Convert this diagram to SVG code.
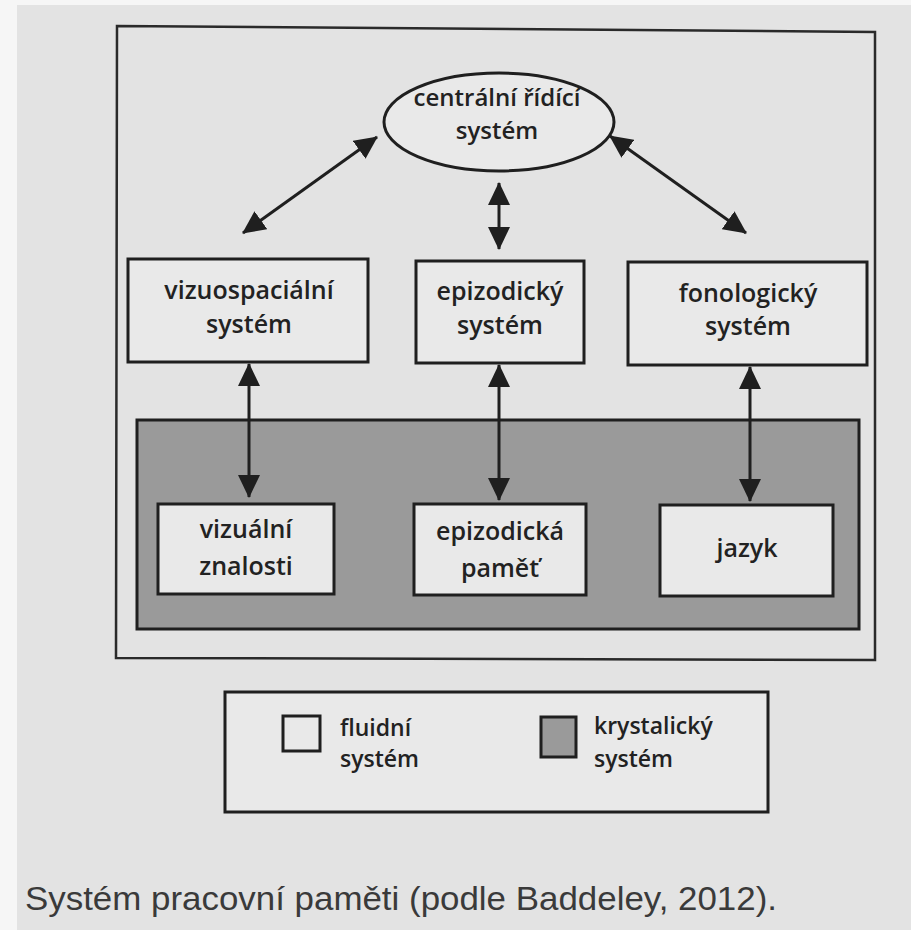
<svg xmlns="http://www.w3.org/2000/svg" width="911" height="930" viewBox="0 0 911 930">
<style>
.bg{fill:#e3e3e3}
.box{fill:#e9e9e9;stroke:#1f1f1f;stroke-width:3}
.frame{fill:none;stroke:#2a2a2a;stroke-width:2.5}
.gray{fill:#9a9a9a;stroke:#1f1f1f;stroke-width:3}
.lbl{font-family:"Open Sans","DejaVu Sans",sans-serif;font-weight:600;font-size:25px;fill:#222;text-anchor:middle}
.lbl-s{font-size:24px}
.leg{font-family:"Open Sans","DejaVu Sans",sans-serif;font-weight:600;font-size:23px;fill:#222}
.cap{font-family:"Liberation Sans",Arial,sans-serif;font-size:33px;fill:#3a3a3a}
.conn{stroke:#1f1f1f;stroke-width:3;fill:none;marker-start:url(#ah);marker-end:url(#ah)}
</style>
<defs>
<marker id="ah" markerUnits="userSpaceOnUse" markerWidth="23" markerHeight="22" refX="22" refY="11" orient="auto-start-reverse">
<path d="M0,0 L23,11 L0,22 z" fill="#1f1f1f"/>
</marker>
</defs>
<rect x="0" y="0" width="911" height="930" fill="#f6f6f6"/>
<rect class="bg" x="17" y="5" width="894" height="925"/>
<polygon class="frame" points="117,26 875,32 875,660 116,658"/>
<g id="krystalicky-region">
<rect class="gray" x="137" y="420" width="722" height="209"/>
</g>
<g id="centralni">
<ellipse class="box" cx="499" cy="122" rx="115" ry="49"/>
<text class="lbl lbl-s" x="497" y="106">centrální řídící</text>
<text class="lbl lbl-s" x="497" y="139">systém</text>
</g>
<g id="vizuospacialni">
<rect class="box" x="128" y="259" width="240" height="103"/>
<text class="lbl" x="249" y="299">vizuospaciální</text>
<text class="lbl" x="249" y="333">systém</text>
</g>
<g id="epizodicky">
<rect class="box" x="416" y="261" width="168" height="102"/>
<text class="lbl" x="500" y="300">epizodický</text>
<text class="lbl" x="500" y="334">systém</text>
</g>
<g id="fonologicky">
<rect class="box" x="628" y="262" width="239" height="103"/>
<text class="lbl" x="748" y="302">fonologický</text>
<text class="lbl" x="748" y="335">systém</text>
</g>
<g id="vizualni-znalosti">
<rect class="box" x="158" y="504" width="176" height="90"/>
<text class="lbl" x="246" y="538">vizuální</text>
<text class="lbl" x="246" y="575">znalosti</text>
</g>
<g id="epizodicka-pamet">
<rect class="box" x="414" y="504" width="172" height="91"/>
<text class="lbl" x="500" y="540">epizodická</text>
<text class="lbl" x="500" y="577">paměť</text>
</g>
<g id="jazyk">
<rect class="box" x="660" y="505" width="173" height="91"/>
<text class="lbl" x="747" y="557">jazyk</text>
</g>
<g id="connectors">
<line class="conn" x1="243" y1="233" x2="377" y2="137"/>
<line class="conn" x1="499" y1="183" x2="499" y2="249"/>
<line class="conn" x1="610" y1="136" x2="746" y2="233"/>
<line class="conn" x1="249" y1="364" x2="249" y2="497"/>
<line class="conn" x1="499" y1="365" x2="499" y2="500"/>
<line class="conn" x1="750" y1="367" x2="750" y2="501"/>
</g>
<g id="legend">
<rect class="box" x="225" y="692" width="543" height="120"/>
<rect class="box" x="283" y="716" width="37" height="35"/>
<text class="leg" x="340" y="736">fluidní</text>
<text class="leg" x="340" y="767">systém</text>
<rect class="gray" x="541" y="717" width="35" height="40"/>
<text class="leg" x="594" y="734">krystalický</text>
<text class="leg" x="594" y="767">systém</text>
</g>
<text class="cap" x="25" y="910" textLength="752" lengthAdjust="spacingAndGlyphs">Systém pracovní paměti (podle Baddeley, 2012).</text>
</svg>
